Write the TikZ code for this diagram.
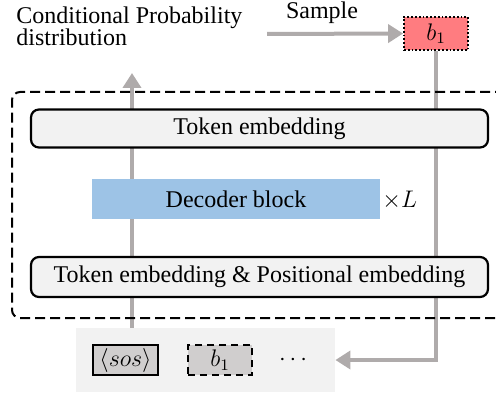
\documentclass[tikz,border=0pt]{standalone}
\usepackage{fontspec}
\setmainfont{Liberation Serif}
\usetikzlibrary{arrows.meta,backgrounds}
\definecolor{boxgray}{HTML}{F2F2F2}
\definecolor{decblue}{HTML}{9DC3E6}
\definecolor{samplered}{HTML}{FF7C80}
\definecolor{tokgray}{HTML}{D0CECE}
\definecolor{linegray}{HTML}{AFABAB}
\tikzset{
  embbox/.style={draw=black, line width=1.1pt, rounded corners=4pt, fill=boxgray,
    minimum width=228.5pt, minimum height=19pt, inner sep=0pt, font=\fontsize{12}{14}\selectfont},
  decbox/.style={fill=decblue, minimum width=144pt, minimum height=20pt, inner sep=0pt, font=\fontsize{12}{14}\selectfont},
  tokbox/.style={fill=tokgray, minimum width=32.5pt, minimum height=15pt, inner sep=0pt, font=\fontsize{12}{14}\selectfont},
  flow/.style={draw=linegray, line width=2pt, -{Triangle[length=7.5pt,width=9pt]}},
  flowline/.style={draw=linegray, line width=2pt},
  lbl/.style={inner sep=0pt, font=\fontsize{12}{14}\selectfont}
}
\begin{document}
\begin{tikzpicture}[x=0.5pt,y=-0.5pt]
\useasboundingbox (0,0) rectangle (496,395);
% dashed frame
\draw[line width=1pt, dash pattern=on 5pt off 2.5pt, rounded corners=4pt] (520,92) -- (12,92) -- (12,318) -- (520,318);
% nodes
\node[embbox] (te) at (259.5,128.5) {Token embedding};
\node[decbox] (dec) at (236,199) {Decoder block};
\node[lbl, anchor=west] (xl) at (382,200) {$\times L$};
\node[embbox, minimum height=20pt] (tpe) at (259.5,277) {Token embedding \& Positional embedding};
\node[fill=boxgray, minimum width=129.5pt, minimum height=32pt, inner sep=0pt] (bg) at (205.5,360) {};
\node[tokbox, draw=black, line width=1pt] (sos) at (125.5,360) {$\langle sos\rangle$};
\node[tokbox, draw=black, line width=1pt, dash pattern=on 3.5pt off 2.5pt, minimum width=32pt] (b1d) at (220,360) {$b_1$};
\node[lbl] (dots) at (293,360) {$\cdots$};
\node[fill=samplered, draw=black, densely dotted, line width=0.9pt, minimum width=32pt, minimum height=16.5pt, inner sep=0pt] (b1r) at (436,33.5) {\fontsize{12}{14}\selectfont$b_1$};
\node[lbl, anchor=north west, align=left, font=\fontsize{12}{11.2}\selectfont] (cond) at (16,6) {Conditional Probability\\distribution};
\node[lbl] (sample) at (322,13) {Sample};
\coordinate (uptip) at (132,73);
\coordinate (sstart) at (267,34);
% connectors
\begin{pgfonlayer}{background}
\draw[flow] (uptip |- bg.north) -- (uptip);
\draw[flow] (b1r.south) |- (bg.east);
\end{pgfonlayer}
\draw[flow] (sstart) -- (b1r.west);
\end{tikzpicture}
\end{document}
